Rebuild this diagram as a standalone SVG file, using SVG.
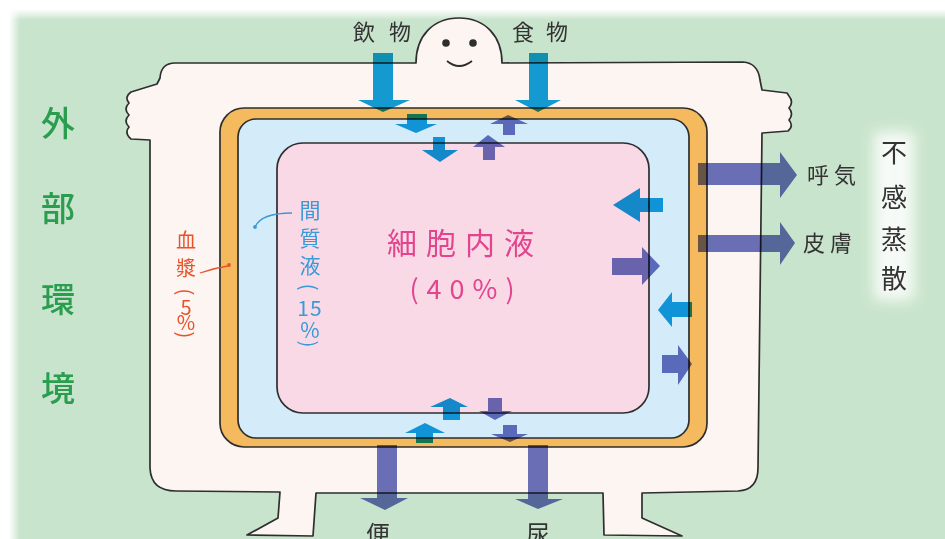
<svg xmlns="http://www.w3.org/2000/svg" width="945" height="539" viewBox="0 0 945 539">
  <defs>
    <linearGradient id="fadeTop" x1="0" y1="0" x2="0" y2="1">
      <stop offset="0" stop-color="#ffffff"/>
      <stop offset="0.45" stop-color="#ffffff"/>
      <stop offset="1" stop-color="#ffffff" stop-opacity="0"/>
    </linearGradient>
    <linearGradient id="fadeLeft" x1="0" y1="0" x2="1" y2="0">
      <stop offset="0" stop-color="#ffffff"/>
      <stop offset="0.45" stop-color="#ffffff"/>
      <stop offset="1" stop-color="#ffffff" stop-opacity="0"/>
    </linearGradient>
    <filter id="glow" x="-50%" y="-20%" width="200%" height="140%">
      <feGaussianBlur stdDeviation="7"/>
    </filter>
  </defs>
  <style>
    .ink { stroke: #2e2e2e; stroke-width: 1.7; stroke-linejoin: round; fill: none; }
    .arr { mix-blend-mode: multiply; stroke: none; }
    .blue { fill: #14a0de; }
    .purple { fill: #6b73c0; }
    .lbl { font-family: "Noto Sans CJK JP", "Noto Sans", sans-serif; fill: #333333; }
    .side { font-family: "Noto Sans CJK JP", sans-serif; fill: #2a9d4f; font-size: 34px; font-weight: 500; text-anchor: middle; }
    .plasma { font-family: "Noto Sans CJK JP", sans-serif; fill: #e8532c; font-size: 20px; text-anchor: middle; }
    .inter { font-family: "Noto Sans CJK JP", sans-serif; fill: #3a9ad8; font-size: 21px; text-anchor: middle; }
    .cell { font-family: "Noto Sans CJK JP", sans-serif; fill: #e2458e; text-anchor: middle; }
    .mid { dominant-baseline: central; }
  </style>

  <!-- surroundings -->
  <rect x="0" y="0" width="945" height="539" fill="#c9e4cc"/>
  <rect x="0" y="0" width="945" height="20" fill="url(#fadeTop)"/>
  <rect x="0" y="0" width="20" height="539" fill="url(#fadeLeft)"/>

  <!-- body figure -->
  <g id="body">
    <path class="ink" style="fill:#fdf5f1" d="M416 63 L175 63 Q161 63 160 78 L157 84 L131 92 Q124 97 129 103 Q123 109 129 115 Q123 121 129 127 Q124 133 131 139 L150 140 L150 468 Q151 491 176 491 L280 492 L278 518 L247 535 L313 536 L316 493 L603 493 L604 535 L682 536 L642 518 L642 493 L738 491 Q758 490 758 468 L762 133 L788 131 Q794 126 789 120 Q794 114 789 108 Q794 102 789 96 L787 93 L762 90 L760 80 Q758 63 743 62 L502 63 C502 36 485 18 459 18 C433 18 416 36 416 63 Z"/>
    <circle cx="446" cy="43" r="3.8" fill="#2e2e2e"/>
    <circle cx="473" cy="43" r="3.8" fill="#2e2e2e"/>
    <path class="ink" d="M447 61 Q459 71 472 61"/>
  </g>

  <!-- plasma -->
  <g id="plasma">
    <rect class="ink" x="220" y="108" width="487" height="339" rx="24" style="fill:#f6ba5e"/>
  </g>
  <!-- interstitial fluid -->
  <g id="interstitial">
    <rect class="ink" x="238" y="119" width="451" height="319" rx="18" style="fill:#d4ebf9"/>
  </g>
  <!-- intracellular fluid -->
  <g id="intracellular">
    <rect class="ink" x="277" y="143" width="372" height="270" rx="26" style="fill:#f9d9e6"/>
  </g>

  <!-- water movement arrows -->
  <g id="connectors">
    <!-- intake -->
    <path class="arr blue" d="M373 53 L393 53 L393 100 L410 100 L383 112 L358 100 L373 100 Z"/>
    <path class="arr blue" d="M529 53 L548 53 L548 100 L561 100 L538 112 L515 100 L529 100 Z"/>
    <path class="arr blue" d="M407 114 L427 114 L427 124 L437 124 L416 133 L395 124 L407 124 Z"/>
    <path class="arr blue" d="M433 137 L445 137 L445 150 L458 150 L440 162 L422 150 L433 150 Z"/>
    <path class="arr purple" d="M508 115 L528 124 L515 124 L515 135 L503 135 L503 124 L490 124 Z"/>
    <path class="arr purple" d="M488 135 L505 147 L495 147 L495 160 L483 160 L483 147 L473 147 Z"/>
    <!-- insensible loss -->
    <path class="arr purple" d="M698 163 L780 163 L780 152 L797 175 L780 198 L780 185 L698 185 Z"/>
    <path class="arr purple" d="M698 235 L780 235 L780 222 L795 243 L780 265 L780 252 L698 252 Z"/>
    <!-- exchange at the right side -->
    <path class="arr blue" d="M663 198 L640 198 L640 188 L613 205 L640 222 L640 212 L663 212 Z"/>
    <path class="arr purple" d="M612 258 L642 258 L642 247 L660 266 L642 285 L642 275 L612 275 Z"/>
    <path class="arr blue" d="M692 302 L672 302 L672 292 L658 310 L672 327 L672 317 L692 317 Z"/>
    <path class="arr purple" d="M662 355 L678 355 L678 345 L692 364 L678 385 L678 373 L662 373 Z"/>
    <!-- exchange at the bottom -->
    <path class="arr blue" d="M450 398 L468 407 L460 407 L460 420 L443 420 L443 407 L430 407 Z"/>
    <path class="arr blue" d="M425 423 L445 433 L433 433 L433 443 L416 443 L416 433 L405 433 Z"/>
    <path class="arr purple" d="M488 398 L502 398 L502 411 L512 411 L495 420 L479 411 L488 411 Z"/>
    <path class="arr purple" d="M503 425 L517 425 L517 434 L528 434 L510 442 L491 434 L503 434 Z"/>
    <!-- output -->
    <path class="arr purple" d="M377 445 L397 445 L397 498 L408 498 L385 510 L360 498 L377 498 Z"/>
    <path class="arr purple" d="M528 445 L548 445 L548 499 L563 499 L538 509 L515 499 L528 499 Z"/>
  </g>

  <!-- leader lines -->
  <g id="leaders">
    <path d="M200 273 Q214 268 228 266" stroke="#e8532c" stroke-width="1.3" fill="none"/>
    <circle cx="229" cy="265" r="1.9" fill="#e8532c"/>
    <path d="M255 227 Q261 213 292 213" stroke="#3a9ad8" stroke-width="1.3" fill="none"/>
    <circle cx="255" cy="227" r="1.9" fill="#3a9ad8"/>
  </g>

  <!-- labels -->
  <g id="label-intake">
    <text class="lbl" x="353" y="40" font-size="22" letter-spacing="14">飲物</text>
    <text class="lbl" x="512" y="40" font-size="22" letter-spacing="12">食物</text>
  </g>
  <g id="label-loss">
    <text class="lbl" x="807" y="183" font-size="22" letter-spacing="5">呼気</text>
    <text class="lbl" x="803" y="251" font-size="22" letter-spacing="5">皮膚</text>
    <rect x="874" y="132" width="40" height="168" fill="#ffffff" filter="url(#glow)" opacity="0.85"/>
    <g class="lbl" font-size="26" text-anchor="middle">
      <text x="894" y="162">不</text>
      <text x="894" y="207">感</text>
      <text x="894" y="249">蒸</text>
      <text x="894" y="288">散</text>
    </g>
  </g>
  <g id="label-output">
    <text class="lbl" x="378" y="543" font-size="24" text-anchor="middle">便</text>
    <text class="lbl" x="538" y="543" font-size="24" text-anchor="middle">尿</text>
  </g>
  <g id="label-external">
    <text class="side" x="58" y="136">外</text>
    <text class="side" x="58" y="221">部</text>
    <text class="side" x="58" y="312">環</text>
    <text class="side" x="58" y="401">境</text>
  </g>
  <g id="label-plasma">
    <text class="plasma" x="186" y="248">血</text>
    <text class="plasma" x="186" y="276">漿</text>
    <text class="plasma mid" x="186" y="292" font-size="17" transform="rotate(90 186 292)">(</text>
    <text class="plasma mid" x="186" y="306" font-size="16">5</text>
    <text class="plasma mid" x="186" y="321" font-size="15">%</text>
    <text class="plasma mid" x="186" y="335" font-size="17" transform="rotate(90 186 335)">)</text>
  </g>
  <g id="label-interstitial">
    <text class="inter" x="310" y="218">間</text>
    <text class="inter" x="310" y="246">質</text>
    <text class="inter" x="310" y="273">液</text>
    <text class="inter mid" x="310" y="287" font-size="18" transform="rotate(90 310 287)">(</text>
    <text class="inter mid" x="310" y="307" font-size="17" letter-spacing="1">15</text>
    <text class="inter mid" x="310" y="329" font-size="16">%</text>
    <text class="inter mid" x="310" y="344" font-size="18" transform="rotate(90 310 344)">)</text>
  </g>
  <g id="label-cell">
    <text class="cell" x="465" y="254" font-size="30" letter-spacing="9">細胞内液</text>
    <text class="cell" x="466" y="299" font-size="27" letter-spacing="8">(40%)</text>
  </g>
</svg>
